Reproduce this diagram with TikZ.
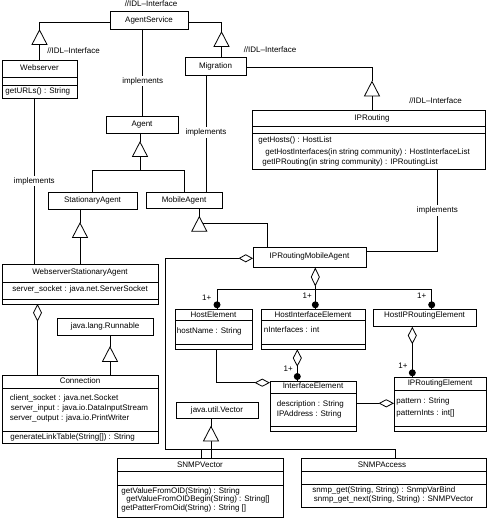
\documentclass[tikz,border=0pt]{standalone}
\usepackage{fontspec}
\setmainfont{Liberation Sans}
\usetikzlibrary{arrows.meta}
\newcommand\fsz{\fontsize{8}{9}\selectfont}
\newcommand\gtri[1]{\draw[fill=white,line join=miter] (#1) -- ++(-7.5,14.5) -- ++(15,0) -- cycle;}
\newcommand\csep[2]{\draw ([yshift=-#2pt]#1.north west) -- ([yshift=-#2pt]#1.north east);}
\tikzset{
 cls/.style={draw, inner sep=0pt, outer sep=0pt, anchor=north west},
 txt/.style={inner sep=0pt, font=\fsz, text height=5.8pt, text depth=1.7pt},
 ltxt/.style={txt, anchor=west},
 impl/.style={txt, fill=white, inner sep=1.5pt},
 agg/.style={-{Diamond[open,length=17.5pt,width=9pt]}},
 aggbig/.style={-{Diamond[open,length=19pt,width=9pt]}},
 aggh/.style={-{Diamond[open,length=15.5pt,width=8pt]}},
 aggstart/.style={{Diamond[open,length=14.5pt,width=8pt]}-},
 dotn/.style={circle, fill, inner sep=0pt, minimum size=7pt},
}
\begin{document}
\begin{tikzpicture}[x=1pt,y=-1pt,line width=0.8pt]
\path[use as bounding box] (0,0) rectangle (487,518);

% ---------- classes ----------
\node[cls,minimum width=78pt,minimum height=18pt] (as) at (110,11) {};
\node[txt] (as-n) at (149,20) {AgentService};
\node[txt] (idl1) at (151,4.5) {//IDL–Interface};

\node[cls,minimum width=75pt,minimum height=38pt] (ws) at (2,60) {};
\csep{ws}{17}\csep{ws}{25}
\node[txt] (ws-n) at (39.5,68.5) {Webserver};
\node[ltxt] (ws-m) at (5,91.5) {getURLs() : String};
\node[txt] (idl2) at (73.5,51) {//IDL–Interface};

\node[cls,minimum width=61pt,minimum height=18pt] (mig) at (185,57) {};
\node[txt] (mig-n) at (215.5,66) {Migration};
\node[txt] (idl3) at (270,50) {//IDL–Interface};

\node[cls,minimum width=233pt,minimum height=59pt] (ipr) at (252,110) {};
\csep{ipr}{16.5}\csep{ipr}{23}
\node[txt] (ipr-n) at (372,118.3) {IPRouting};
\node[ltxt] (ipr-m1) at (258,140.7) {getHosts() : HostList};
\node[ltxt] (ipr-m2) at (265,152) {getHostInterfaces(in string community) : HostInterfaceList};
\node[ltxt] (ipr-m3) at (262,162.7) {getIPRouting(in string community) : IPRoutingList};
\node[txt] (idl4) at (435.5,101) {//IDL–Interface};

\node[cls,minimum width=72pt,minimum height=17pt] (ag) at (106,116) {};
\node[txt] (ag-n) at (142,124.5) {Agent};

\node[cls,minimum width=89pt,minimum height=17pt] (sa) at (48,192) {};
\node[txt] (sa-n) at (92.5,200.5) {StationaryAgent};

\node[cls,minimum width=76pt,minimum height=16.5pt] (ma) at (146,192) {};
\node[txt] (ma-n) at (184,200.3) {MobileAgent};

\node[cls,minimum width=156pt,minimum height=40pt] (wsa) at (2,264) {};
\csep{wsa}{18}\csep{wsa}{35.5}
\node[txt] (wsa-n) at (80,272.5) {WebserverStationaryAgent};
\node[ltxt] (wsa-a) at (12,289.5) {server\_socket : java.net.ServerSocket};

\node[cls,minimum width=96pt,minimum height=17pt] (run) at (57,318) {};
\node[txt] (run-n) at (105,326.5) {java.lang.Runnable};

\node[cls,minimum width=156pt,minimum height=68.5pt] (con) at (2,375) {};
\csep{con}{13.3}\csep{con}{56.7}
\node[txt] (con-n) at (80,381.7) {Connection};
\node[ltxt] (con-a1) at (9.5,398.3) {client\_socket : java.net.Socket};
\node[ltxt] (con-a2) at (10.5,408.7) {server\_input : java.io.DataInputStream};
\node[ltxt] (con-a3) at (9.5,418.5) {server\_output : java.io.PrintWriter};
\node[ltxt] (con-m) at (10,437.7) {generateLinkTable(String[]) : String};

\node[cls,minimum width=113pt,minimum height=20.5pt] (rma) at (253,247) {};
\node[txt] (rma-n) at (309.5,256.5) {IPRoutingMobileAgent};

\node[cls,minimum width=77pt,minimum height=40pt] (he) at (175,309.3) {};
\csep{he}{11.4}\csep{he}{35}
\node[txt] (he-n) at (213.5,315) {HostElement};
\node[ltxt] (he-a) at (176.5,331.5) {hostName : String};

\node[cls,minimum width=104pt,minimum height=40pt] (hie) at (261,309.3) {};
\csep{hie}{11.4}\csep{hie}{35}
\node[txt] (hie-n) at (313,315) {HostInterfaceElement};
\node[ltxt] (hie-a) at (263.5,330) {nInterfaces : int};

\node[cls,minimum width=103pt,minimum height=17.5pt] (hipe) at (373,309.3) {};
\node[txt] (hipe-n) at (424.5,315.5) {HostIPRoutingElement};

\node[cls,minimum width=86pt,minimum height=50pt] (ie) at (270,381) {};
\csep{ie}{12}\csep{ie}{45.7}
\node[txt] (ie-n) at (313,386.7) {InterfaceElement};
\node[ltxt] (ie-a1) at (276.5,404.3) {description : String};
\node[ltxt] (ie-a2) at (276.5,414) {IPAddress : String};

\node[cls,minimum width=92pt,minimum height=54.4pt] (ipe) at (394,377.3) {};
\csep{ipe}{12.7}\csep{ipe}{49.4}
\node[txt] (ipe-n) at (440,383) {IPRoutingElement};
\node[ltxt] (ipe-a1) at (396,401.7) {pattern : String};
\node[ltxt] (ipe-a2) at (396,413.3) {patternInts : int[]};

\node[cls,minimum width=82pt,minimum height=16.5pt] (vec) at (176,402) {};
\node[txt] (vec-n) at (217,410.3) {java.util.Vector};

\node[cls,minimum width=166pt,minimum height=59pt] (sv) at (117,458.3) {};
\csep{sv}{13.4}\csep{sv}{26.7}
\node[txt] (sv-n) at (200,465) {SNMPVector};
\node[ltxt] (sv-m1) at (121,491) {getValueFromOID(String) : String};
\node[ltxt] (sv-m2) at (126,499.5) {getValueFromOIDBegin(String) : String[]};
\node[ltxt] (sv-m3) at (121,508.3) {getPatterFromOid(String) : String []};

\node[cls,minimum width=185pt,minimum height=49pt] (sac) at (301,458.3) {};
\csep{sac}{13.4}\csep{sac}{25.7}
\node[txt] (sac-n) at (382,465) {SNMPAccess};
\node[ltxt] (sac-m1) at (312,490.5) {snmp\_get(String, String) : SnmpVarBind};
\node[ltxt] (sac-m2) at (313.5,499.5) {snmp\_get\_next(String, String) : SNMPVector};

% ---------- coordinates ----------
\coordinate (t1) at (39.5,30);   \coordinate (t1b) at (39.5,44.5); \coordinate (b1) at (39.5,22.7);
\coordinate (t2) at (221.5,32);  \coordinate (t2b) at (221.5,46.5); \coordinate (b2) at (221.5,22.7);
\coordinate (t3) at (372,81.5);  \coordinate (t3b) at (372,96);    \coordinate (b3) at (372,67.7);
\coordinate (t7) at (140,142);   \coordinate (t7b) at (140,156.5); \coordinate (b7) at (140,170.7);
\coordinate (t8) at (80,223);    \coordinate (t8b) at (80,237.5);
\coordinate (t9) at (199.3,216.7); \coordinate (s9) at (202.8,223.3); \coordinate (b9) at (267.3,223.3);
\coordinate (t12) at (110,347);  \coordinate (t12b) at (110,361.5);
\coordinate (t19) at (211,426.5); \coordinate (t19b) at (211,441);
\coordinate (k4) at (142.7,60);
\coordinate (k5) at (34.3,180);
\coordinate (k6) at (206,130);
\coordinate (b10) at (437.3,251.7);
\coordinate (k11) at (37.5,340);
\coordinate (b13) at (315.3,289.3); \coordinate (k13a) at (217,289.3); \coordinate (k13c) at (431.7,289.3);
\coordinate (k14) at (297.3,365);
\coordinate (k15) at (412.3,360);
\coordinate (b16) at (216.7,382.7);
\coordinate (k17) at (375,403.3);
\coordinate (b18a) at (165,258.3); \coordinate (b18b) at (165,449.3);
\coordinate (b18c) at (395.7,449.3); \coordinate (b18d) at (201.7,449.3);

% ---------- connectors ----------
\draw (t1) -- (b1) -- (b1 -| as.west);
\draw (t1b) -- (t1b |- ws.north);
\draw (t2) -- (b2) -- (b2 -| as.east);
\draw (t2b) -- (t2b |- mig.north);
\draw (t3) -- (b3) -- (b3 -| mig.east);
\draw (t3b) -- (t3b |- ipr.north);

\draw (k4 |- as.south) -- node[impl,pos=0.6] (l4) {implements} (k4 |- ag.north);
\draw (k5 |- ws.south) -- node[impl,pos=0.5] (l5) {implements} (k5 |- wsa.north);
\draw (k6 |- mig.south) -- node[impl,pos=0.49] (l6) {implements} (k6 |- ma.north);

\draw (t7 |- ag.south) -- (t7);
\draw (t7b) -- (b7);
\draw (sa.north) -- (sa.north |- b7) -- (ma.north |- b7) -- (ma.north);
\draw (t8 |- sa.south) -- (t8);
\draw (t8b) -- (t8b |- wsa.north);
\draw (t9 |- ma.south) -- (t9);
\draw (s9) -- (b9) -- (b9 |- rma.north);

\draw (b10 |- ipr.south) -- node[impl,pos=0.5] (l10) {implements} (b10) -- (b10 -| rma.east);

\draw[agg] (k11 |- con.north) -- (k11 |- wsa.south);
\draw (t12 |- run.south) -- (t12);
\draw (t12b) -- (t12b |- con.north);

\draw[aggbig] (b13) -- (b13 |- rma.south);
\draw (k13a |- he.north) -- (k13a) -- (k13c) -- (k13c |- hipe.north);
\draw (b13) -- (b13 |- hie.north);
\node[dotn] (d1) at (217,304.8) {};
\node[dotn] (d2) at (315.3,304.8) {};
\node[dotn] (d3) at (431.7,304.8) {};
\node[txt] (n1) at (206.7,298.3) {1+};
\node[txt] (n2) at (307.3,296.7) {1+};
\node[txt] (n3) at (421.7,296.7) {1+};

\draw[agg] (k14 |- ie.north) -- (k14 |- hie.south);
\node[dotn] (d4) at (297.3,376.5) {};
\node[txt] (n4) at (288.3,369.3) {1+};
\draw[agg] (k15 |- ipe.north) -- (k15 |- hipe.south);
\node[dotn] (d5) at (412.3,372.8) {};
\node[txt] (n5) at (403,366.7) {1+};

\draw[aggh] (b16 |- he.south) -- (b16) -- (b16 -| ie.west);
\draw[aggh] (k17 -| ie.east) -- (k17 -| ipe.west);

\draw[aggstart] (b18a -| rma.west) -- (b18a) -- (b18b) -- (b18c) -- (b18c |- sac.north);
\draw (b18d) -- (b18d |- sv.north);

\draw (t19 |- vec.south) -- (t19);
\draw (t19b) -- (t19b |- sv.north);

% ---------- generalisation triangles ----------
\gtri{t1}\gtri{t2}\gtri{t3}\gtri{t7}\gtri{t8}\gtri{t9}\gtri{t12}\gtri{t19}
\end{tikzpicture}
\end{document}
